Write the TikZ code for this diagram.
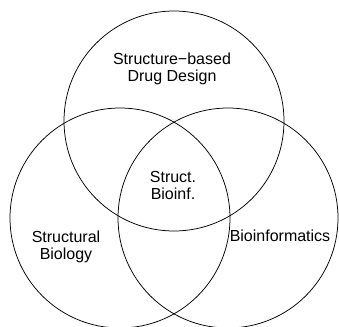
\documentclass[tikz,border=0pt]{standalone}
\usepackage{fontspec}
\setmainfont{Liberation Sans}
\begin{document}
\begin{tikzpicture}[x=1pt,y=-1pt,
  venn/.style={draw=black,line width=0.75pt},
  lbl/.style={align=center,inner sep=0pt,font=\fontsize{16}{17}\selectfont}]
\useasboundingbox (0,0) rectangle (339,326);
\begin{scope}
\clip (0,0) rectangle (339,326);
\draw[venn] (174,121) circle[radius=110];
\draw[venn] (120,218) circle[radius=110];
\draw[venn] (228,218) circle[radius=110];
\end{scope}
\node[lbl] (sbdd) at (172,68.5) {Structure\char"2212 based\\Drug Design};
\node[lbl] (sbi) at (173,185.75) {Struct.\\Bioinf.};
\node[lbl] (sb) at (66,246.5) {Structural\\Biology};
\node[lbl] (bi) at (280,236) {Bioinformatics};
\end{tikzpicture}
\end{document}
